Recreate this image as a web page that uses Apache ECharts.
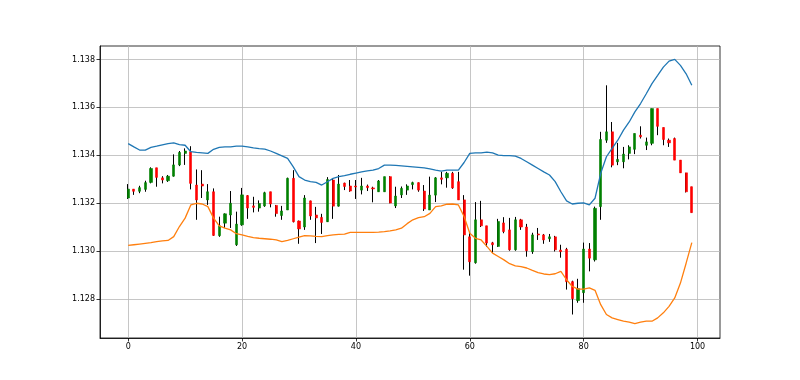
<!DOCTYPE html>
<html>
<head>
<meta charset="utf-8">
<script src="https://cdn.jsdelivr.net/npm/echarts@6/dist/echarts.min.js"></script>
<style>html,body{margin:0;padding:0;background:#fff;}#c{width:800px;height:380px;}</style>
</head>
<body>
<div id="c"></div>
<script>
const opens = [1.13222,1.13259,1.13250,1.13258,1.13287,1.13348,1.13306,1.13294,1.13313,1.13360,
1.13408,1.13415,1.13276,1.13280,1.13214,1.13248,1.13065,1.13117,1.13151,1.13027,
1.13110,1.13232,1.13189,1.13180,1.13189,1.13248,1.13191,1.13149,1.13172,1.13304,
1.13126,1.13101,1.13210,1.13151,1.13141,1.13123,1.13297,1.13188,1.13284,1.13272,
1.13272,1.13255,1.13272,1.13264,1.13248,1.13248,1.13311,1.13189,1.13235,1.13255,
1.13278,1.13286,1.13251,1.13172,1.13234,1.13306,1.13306,1.13325,1.13290,1.13214,
1.13060,1.12952,1.13131,1.13106,1.13035,1.13020,1.13118,1.13089,1.13006,1.13131,
1.13101,1.12998,1.13072,1.13068,1.13052,1.13060,1.13005,1.13008,1.12873,1.12794,
1.12827,1.13009,1.12964,1.13186,1.13463,1.13498,1.13373,1.13373,1.13408,1.13425,
1.13484,1.13442,1.13450,1.13595,1.13516,1.13463,1.13470,1.13380,1.13327,1.13269];
const closes = [1.13259,1.13250,1.13265,1.13286,1.13345,1.13308,1.13297,1.13313,1.13360,1.13412,
1.13418,1.13283,1.13214,1.13272,1.13248,1.13066,1.13106,1.13156,1.13200,1.13113,
1.13235,1.13180,1.13183,1.13199,1.13244,1.13197,1.13157,1.13168,1.13304,1.13123,
1.13093,1.13222,1.13147,1.13139,1.13120,1.13299,1.13188,1.13280,1.13270,1.13251,
1.13268,1.13272,1.13265,1.13260,1.13293,1.13311,1.13201,1.13230,1.13262,1.13272,
1.13286,1.13255,1.13176,1.13234,1.13306,1.13300,1.13325,1.13264,1.13214,1.13068,
1.12956,1.13131,1.13106,1.13034,1.13027,1.13124,1.13082,1.13006,1.13131,1.13101,
1.13002,1.13068,1.13068,1.13047,1.13060,1.13006,1.12998,1.12873,1.12802,1.12844,
1.13009,1.12971,1.13179,1.13466,1.13498,1.13359,1.13383,1.13405,1.13435,1.13491,
1.13477,1.13456,1.13595,1.13521,1.13466,1.13452,1.13380,1.13327,1.13248,1.13161];
const highs = [1.13280,1.13259,1.13273,1.13294,1.13350,1.13348,1.13313,1.13318,1.13404,1.13418,
1.13429,1.13438,1.13341,1.13338,1.13280,1.13262,1.13144,1.13158,1.13251,1.13165,
1.13264,1.13234,1.13227,1.13212,1.13248,1.13248,1.13193,1.13189,1.13307,1.13338,
1.13128,1.13234,1.13211,1.13185,1.13156,1.13309,1.13303,1.13318,1.13286,1.13297,
1.13297,1.13306,1.13278,1.13269,1.13297,1.13311,1.13313,1.13269,1.13270,1.13279,
1.13290,1.13287,1.13276,1.13311,1.13309,1.13331,1.13331,1.13331,1.13331,1.13234,
1.13077,1.13205,1.13210,1.13106,1.13039,1.13135,1.13142,1.13139,1.13143,1.13135,
1.13114,1.13077,1.13097,1.13072,1.13072,1.13064,1.13027,1.13014,1.12877,1.12885,
1.13036,1.13034,1.13186,1.13498,1.13692,1.13539,1.13452,1.13435,1.13442,1.13491,
1.13521,1.13474,1.13595,1.13595,1.13516,1.13470,1.13474,1.13380,1.13327,1.13269];
const lows = [1.13218,1.13235,1.13242,1.13248,1.13283,1.13269,1.13283,1.13289,1.13311,1.13355,
1.13360,1.13258,1.13131,1.13222,1.13193,1.13064,1.13060,1.13097,1.13097,1.13022,
1.13106,1.13135,1.13162,1.13165,1.13185,1.13183,1.13144,1.13131,1.13172,1.13120,
1.13031,1.13089,1.13131,1.13034,1.13072,1.13122,1.13135,1.13186,1.13255,1.13248,
1.13218,1.13237,1.13251,1.13204,1.13248,1.13248,1.13200,1.13180,1.13222,1.13235,
1.13258,1.13248,1.13168,1.13172,1.13205,1.13279,1.13265,1.13260,1.13214,1.12923,
1.12898,1.12948,1.13101,1.13018,1.12993,1.13018,1.13075,1.13002,1.13002,1.13089,
1.12977,1.12989,1.13047,1.13031,1.13039,1.12999,1.12973,1.12840,1.12736,1.12785,
1.12785,1.12916,1.12957,1.13131,1.13452,1.13350,1.13359,1.13346,1.13383,1.13405,
1.13470,1.13422,1.13442,1.13484,1.13442,1.13435,1.13380,1.13327,1.13245,1.13161];
const upperBand = [1.13449,1.13435,1.13422,1.13422,1.13433,1.13438,1.13444,1.13449,1.13452,1.13445,
1.13442,1.13415,1.13412,1.13410,1.13408,1.13425,1.13433,1.13435,1.13435,1.13438,
1.13438,1.13435,1.13431,1.13428,1.13426,1.13418,1.13408,1.13398,1.13387,1.13352,
1.13311,1.13297,1.13290,1.13287,1.13276,1.13290,1.13304,1.13311,1.13315,1.13321,
1.13326,1.13331,1.13335,1.13338,1.13345,1.13359,1.13359,1.13358,1.13356,1.13354,
1.13352,1.13350,1.13348,1.13343,1.13338,1.13334,1.13338,1.13338,1.13338,1.13370,
1.13408,1.13410,1.13410,1.13413,1.13410,1.13401,1.13399,1.13399,1.13397,1.13387,
1.13373,1.13359,1.13345,1.13331,1.13318,1.13290,1.13248,1.13210,1.13197,1.13200,
1.13202,1.13193,1.13221,1.13325,1.13394,1.13429,1.13463,1.13505,1.13539,1.13581,
1.13616,1.13657,1.13699,1.13733,1.13768,1.13793,1.13800,1.13775,1.13740,1.13692];
const lowerBand = [1.13024,1.13027,1.13030,1.13033,1.13036,1.13040,1.13043,1.13045,1.13061,1.13103,
1.13138,1.13193,1.13200,1.13197,1.13186,1.13138,1.13106,1.13096,1.13089,1.13073,
1.13068,1.13062,1.13057,1.13054,1.13052,1.13050,1.13047,1.13040,1.13045,1.13052,
1.13059,1.13065,1.13064,1.13062,1.13061,1.13065,1.13068,1.13070,1.13071,1.13079,
1.13079,1.13079,1.13079,1.13079,1.13080,1.13082,1.13085,1.13089,1.13096,1.13115,
1.13131,1.13140,1.13144,1.13158,1.13186,1.13189,1.13196,1.13197,1.13193,1.13145,
1.13075,1.13054,1.13047,1.13020,1.12992,1.12978,1.12964,1.12948,1.12939,1.12936,
1.12930,1.12920,1.12911,1.12905,1.12902,1.12906,1.12916,1.12881,1.12853,1.12842,
1.12842,1.12847,1.12837,1.12777,1.12736,1.12722,1.12715,1.12708,1.12704,1.12698,
1.12704,1.12708,1.12708,1.12722,1.12743,1.12770,1.12805,1.12867,1.12950,1.13036];
const xTicks = [0, 20, 40, 60, 80, 100];
const yTicks = [1.128, 1.130, 1.132, 1.134, 1.136, 1.138];

const idx = opens.map((_, i) => i);
const wickData = idx.map(i => [i, opens[i], closes[i], lows[i], highs[i]]);
const bodyData = idx.map(i => [i, opens[i], closes[i], Math.min(opens[i], closes[i]), Math.max(opens[i], closes[i])]);

const font = 'DejaVu Sans';
const chart = echarts.init(document.getElementById('c'), null, {renderer: 'canvas'});
chart.setOption({
  animation: false,
  backgroundColor: '#fff',
  grid: {left: 100, right: 80, top: 46, bottom: 42, show: true, borderColor: '#000', borderWidth: 0.8, backgroundColor: 'transparent'},
  xAxis: {
    type: 'value', min: -4.95, max: 103.95,
    axisLine: {show: true, onZero: false, lineStyle: {color: '#000', width: 0.8}},
    axisTick: {show: true, length: 3.5, customValues: xTicks, lineStyle: {color: '#000', width: 0.8}},
    axisLabel: {customValues: xTicks, color: '#000', fontFamily: font, fontSize: 8, margin: 5},
    splitLine: {show: true, lineStyle: {color: '#b8b8b8', width: 0.8}}
  },
  yAxis: {
    type: 'value', min: 1.12638, max: 1.13856, scale: true,
    axisLine: {show: true, onZero: false, lineStyle: {color: '#000', width: 0.8}},
    axisTick: {show: true, length: 3.5, customValues: yTicks, lineStyle: {color: '#000', width: 0.8}},
    axisLabel: {customValues: yTicks, color: '#000', fontFamily: font, fontSize: 8, margin: 5,
      formatter: v => v.toFixed(3)},
    splitLine: {show: true, lineStyle: {color: '#b8b8b8', width: 0.8}}
  },
  series: [
    {type: 'candlestick', data: wickData, encode: {x: 0, y: [1, 2, 3, 4]}, barWidth: 1,
      itemStyle: {color: '#000', color0: '#000', borderColor: '#000', borderColor0: '#000', borderWidth: 1}, z: 2},
    {type: 'candlestick', data: bodyData, encode: {x: 0, y: [1, 2, 3, 4]}, barWidth: 2.6,
      itemStyle: {color: '#008000', color0: '#ff0000', borderColor: '#008000', borderColor0: '#ff0000', borderWidth: 0.6}, z: 3},
    {type: 'line', data: idx.map(i => [i, upperBand[i]]), symbol: 'none', lineStyle: {color: '#1f77b4', width: 1.3}, z: 4},
    {type: 'line', data: idx.map(i => [i, lowerBand[i]]), symbol: 'none', lineStyle: {color: '#ff7f0e', width: 1.3}, z: 4}
  ]
});
</script>
</body>
</html>
